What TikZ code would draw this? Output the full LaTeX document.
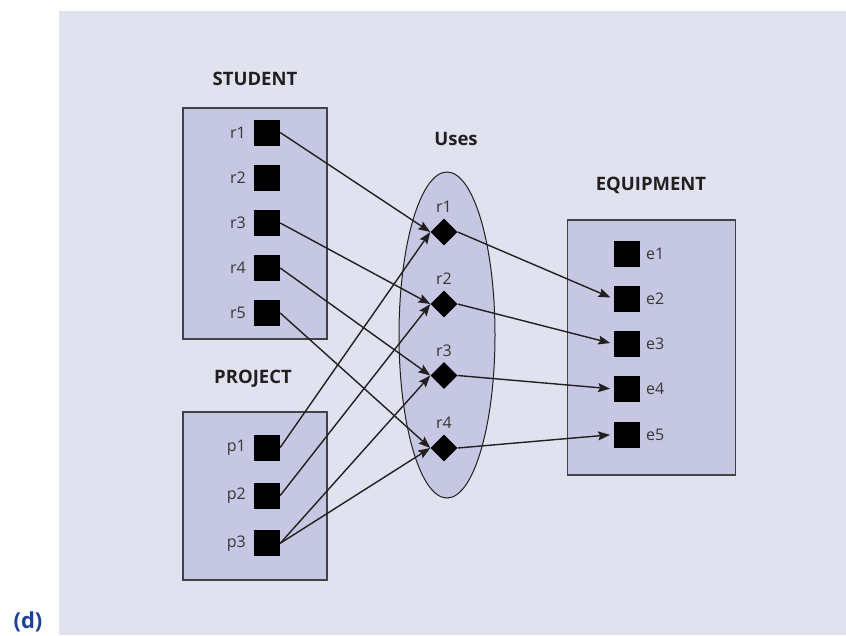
\documentclass[tikz,border=0pt]{standalone}
\usepackage{fontspec}
\setmainfont{Open Sans}
\usetikzlibrary{shapes.geometric,arrows.meta}
\definecolor{bgpanel}{RGB}{224,226,240}
\definecolor{boxfill}{RGB}{198,199,226}
\definecolor{linecol}{RGB}{35,31,32}
\definecolor{dblue}{RGB}{31,64,153}
\begin{document}
\begin{tikzpicture}[x=1pt,y=-1pt,
  font=\fontsize{16}{19}\selectfont,
  entbox/.style={draw=linecol!85, line width=1.2pt, fill=boxfill, inner sep=0pt},
  sq/.style={fill=black, minimum size=26pt, inner sep=0pt},
  dia/.style={diamond, fill=black, minimum size=27pt, inner sep=0pt},
  lbl/.style={text=linecol!90, inner sep=0pt},
  head/.style={font=\fontsize{18.5}{22}\selectfont\bfseries, text=linecol, inner sep=0pt},
  arr/.style={draw=linecol, line width=1.4pt, -{Stealth[length=12pt,width=9pt,inset=2pt]}}
]
\useasboundingbox (0,0) rectangle (846,635);
\fill[bgpanel] (59,11) rectangle (846,635);

% containers
\node[entbox, minimum width=144pt, minimum height=231pt] (stud) at (255,223.5) {};
\node[entbox, minimum width=144pt, minimum height=168pt] (proj) at (255,496) {};
\node[entbox, minimum width=168pt, minimum height=255pt] (equip) at (651.5,347.5) {};
\node[ellipse, draw=linecol, line width=1pt, fill=boxfill, minimum width=96pt, minimum height=326pt, inner sep=0pt] (uses) at (447,335) {};

% headings
\node[head] (hstud) at (255,79) {STUDENT};
\node[head] (hproj) at (253,379) {PROJECT};
\node[head] (huses) at (456,139) {Uses};
\node[head] (hequip) at (651,185) {EQUIPMENT};
\node[font=\fontsize{22}{26}\selectfont\bfseries, text=dblue, inner sep=0pt] (dlab) at (28,622) {(d)};

% student squares
\node[sq] (s1) at (267,132.5) {};
\node[sq] (s2) at (267,177.7) {};
\node[sq] (s3) at (267,223) {};
\node[sq] (s4) at (267,268) {};
\node[sq] (s5) at (267,313) {};
\node[lbl, anchor=east] (ls1) at (246,132.5) {r1};
\node[lbl, anchor=east] (ls2) at (246,177.7) {r2};
\node[lbl, anchor=east] (ls3) at (246,223) {r3};
\node[lbl, anchor=east] (ls4) at (246,268) {r4};
\node[lbl, anchor=east] (ls5) at (246,313) {r5};

% project squares
\node[sq] (p1) at (267,447.5) {};
\node[sq] (p2) at (267,495.5) {};
\node[sq] (p3) at (267,543.3) {};
\node[lbl, anchor=east] (lp1) at (246,447.5) {p1};
\node[lbl, anchor=east] (lp2) at (246,495.5) {p2};
\node[lbl, anchor=east] (lp3) at (246,543.3) {p3};

% uses diamonds
\node[dia] (u1) at (444,232) {};
\node[dia] (u2) at (444,304) {};
\node[dia] (u3) at (444,375.5) {};
\node[dia] (u4) at (444,448) {};
\node[lbl] (lu1) at (444,207) {r1};
\node[lbl] (lu2) at (444,279) {r2};
\node[lbl] (lu3) at (444,351) {r3};
\node[lbl] (lu4) at (444,423) {r4};

% equipment squares
\node[sq] (e1) at (627.3,253.5) {};
\node[sq] (e2) at (627.3,299) {};
\node[sq] (e3) at (627.3,344) {};
\node[sq] (e4) at (627.3,389) {};
\node[sq] (e5) at (627.3,434.5) {};
\node[lbl, anchor=west] (le1) at (646,253.5) {e1};
\node[lbl, anchor=west] (le2) at (646,299) {e2};
\node[lbl, anchor=west] (le3) at (646,344) {e3};
\node[lbl, anchor=west] (le4) at (646,389) {e4};
\node[lbl, anchor=west] (le5) at (646,434.5) {e5};

% connectors
\draw[arr] (s1.east) -- (u1.west);
\draw[arr] (s3.east) -- (u2.west);
\draw[arr] (s4.east) -- (u3.west);
\draw[arr] (s5.east) -- (u4.west);
\draw[arr] (p1.east) -- (u1.west);
\draw[arr] (p2.east) -- (u2.west);
\draw[arr] (p3.east) -- (u3.west);
\draw[arr] (p3.east) -- (u4.west);
\draw[arr, shorten >=4pt] (u1.east) -- (e2.west);
\draw[arr, shorten >=4pt] (u2.east) -- (e3.west);
\draw[arr, shorten >=4pt] (u3.east) -- (e4.west);
\draw[arr, shorten >=4pt] (u4.east) -- (e5.west);
\end{tikzpicture}
\end{document}
